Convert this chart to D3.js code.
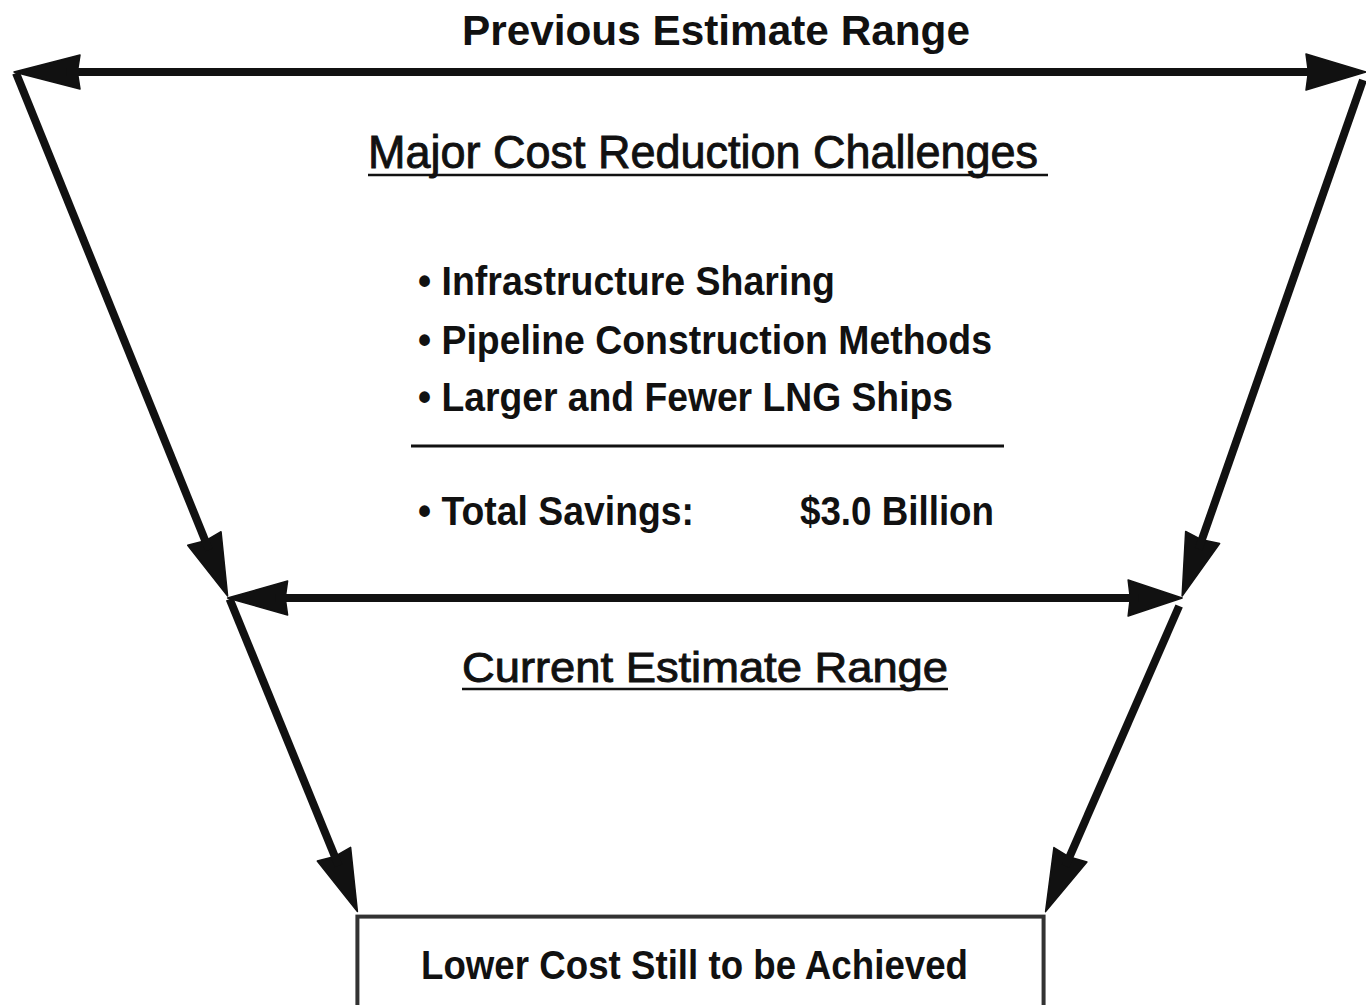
<!DOCTYPE html>
<html>
<head>
<meta charset="utf-8">
<script src="https://cdn.jsdelivr.net/npm/d3@7"></script>
<style>
  html, body { margin: 0; padding: 0; background: #fff; }
  svg { display: block; }
  text { font-family: "Liberation Sans", Arial, Helvetica, sans-serif; fill: #111; }
</style>
</head>
<body>
<svg id="chart"></svg>
<script>
// funnel stages: previous range, current range, lower cost still to be achieved
const stages = ["Previous Estimate Range", "Current Estimate Range", "Lower Cost Still to be Achieved"];
const stageLevel = [0, 1, 1.6];
const rangeLow = [0, 15.8, 25.4];
const rangeHigh = [100, 86.4, 76.3];

const heading = "Major Cost Reduction Challenges";
const challenges = ["Infrastructure Sharing", "Pipeline Construction Methods", "Larger and Fewer LNG Ships"];
const savingsLabel = "Total Savings:";
const savingsValue = "$3.0 Billion";

const drawFunnel = (selector) => {
  const width = 1366;
  const height = 1005;
  const svg = d3.select(selector).attr("width", width).attr("height", height);

  // Escalas
  const x = d3.scaleLinear().domain([0, 100]).range([14, 1366]);
  const y = d3.scaleLinear().domain([0, 1]).range([72, 598]);

  const ink = "#111";

  // arrow head: solid triangle, returns the point where the shaft should stop
  const arrowHead = (x1, y1, x2, y2, len, half) => {
    const a = Math.atan2(y2 - y1, x2 - x1);
    const bx = x2 - len * Math.cos(a);
    const by = y2 - len * Math.sin(a);
    const px = -Math.sin(a) * half;
    const py = Math.cos(a) * half;
    const p = d3.path();
    p.moveTo(x2, y2);
    p.lineTo(bx + px, by + py);
    p.lineTo(bx + len * 0.04 * Math.cos(a), by + len * 0.04 * Math.sin(a));
    p.lineTo(bx - px, by - py);
    p.closePath();
    svg.append("path").attr("d", p.toString()).attr("fill", ink)
      .attr("stroke", ink).attr("stroke-width", 1.5).attr("stroke-linejoin", "round");
    return [bx + len * 0.2 * Math.cos(a), by + len * 0.2 * Math.sin(a)];
  };

  const line = (x1, y1, x2, y2, w) => {
    svg.append("line")
      .attr("x1", x1).attr("y1", y1).attr("x2", x2).attr("y2", y2)
      .attr("stroke", ink).attr("stroke-width", w);
  };

  // horizontal double arrows (range widths)
  [0, 1].forEach((i) => {
    const yy = y(stageLevel[i]);
    const xl = x(rangeLow[i]);
    const xr = x(rangeHigh[i]);
    const big = i === 0 ? 66 : 60;
    const l = arrowHead(xr, yy, xl, yy, big, 17);
    const r = arrowHead(xl, yy, xr, yy, big - 6, 18);
    line(l[0], yy, r[0], yy, 8);
  });

  // diagonal arrows stepping down the funnel
  [0, 1].forEach((i) => {
    const y1 = y(stageLevel[i]);
    const y2 = y(stageLevel[i + 1]);
    const sets = [[rangeLow[i], rangeLow[i + 1]], [rangeHigh[i], rangeHigh[i + 1]]];
    sets.forEach(([a, b], k) => {
      const x1 = x(a) + (k === 0 ? 2 : -3);
      const yy1 = y1 + (k === 0 ? 1 : 8);
      const base = arrowHead(x1, yy1, x(b), y2 - 2, 62, 18);
      line(x1, yy1, base[0], base[1], 8);
    });
  });

  // bottom box
  const bl = x(rangeLow[2]);
  const br = x(rangeHigh[2]) - 2;
  const bt = y(stageLevel[2]) + 3;
  svg.append("rect")
    .attr("x", bl).attr("y", bt)
    .attr("width", br - bl).attr("height", height - bt + 20)
    .attr("fill", "none").attr("stroke", "#333").attr("stroke-width", 4);

  const addText = (str, tx, ty, size, weight, len, extra) => {
    const t = svg.append("text")
      .attr("x", tx).attr("y", ty)
      .attr("font-size", size)
      .attr("font-weight", weight)
      .attr("textLength", len)
      .attr("lengthAdjust", "spacingAndGlyphs")
      .text(str);
    if (extra) t.attr("stroke", "#111").attr("stroke-width", extra);
    return t;
  };

  // Textos
  addText(stages[0], 462, 45, 43, "bold", 508);
  addText(heading, 368, 168, 46, "normal", 670, 0.9);
  line(368, 175, 1048, 175, 2.5);

  const rowY = [295, 354, 411];
  const rowLen = [417, 574, 535];
  challenges.forEach((c, i) => {
    addText("\u2022 " + c, 418, rowY[i], 40, "bold", rowLen[i]);
  });

  line(411, 446, 1004, 446, 3);

  addText("\u2022 " + savingsLabel, 418, 525, 40, "bold", 276);
  addText(savingsValue, 800, 525, 40, "bold", 194);

  addText(stages[1], 462, 682, 43, "normal", 486, 0.9);
  line(462, 689, 948, 689, 2.5);

  addText(stages[2], 421, 979, 40, "bold", 547);
};

drawFunnel("#chart");
</script>
</body>
</html>
